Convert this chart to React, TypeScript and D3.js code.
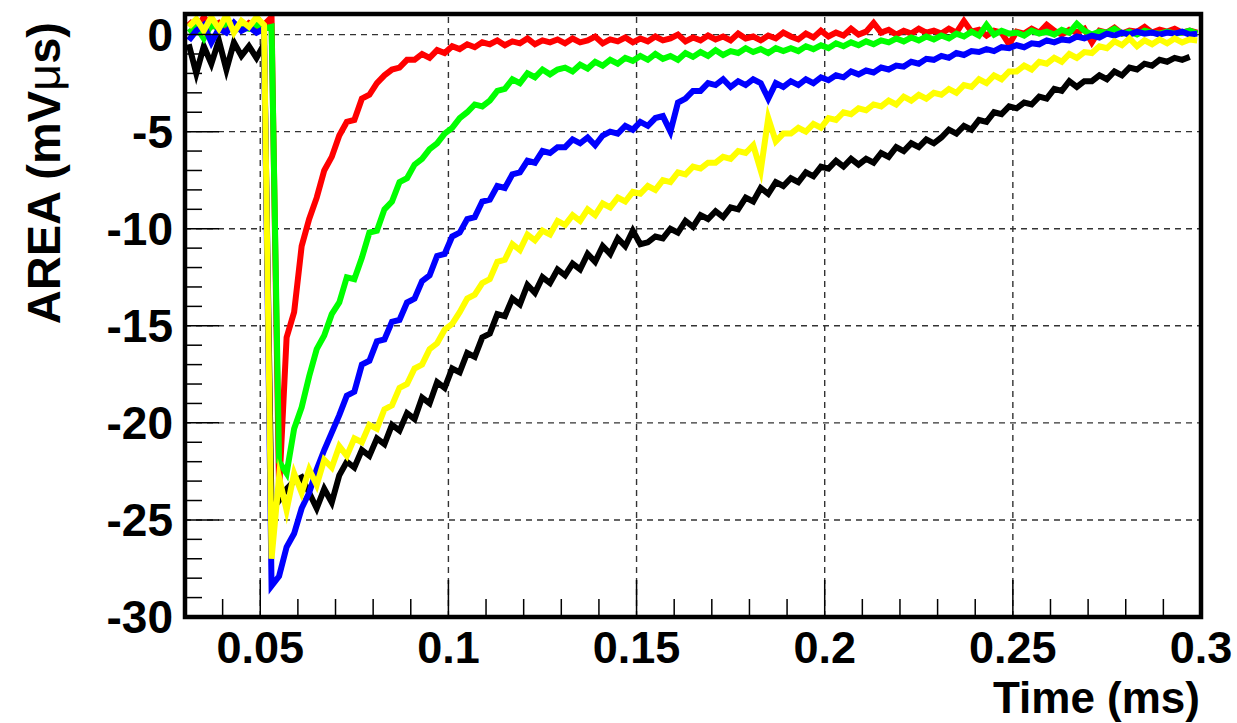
import React from 'react';
import * as d3 from 'd3';

// Sample times (ms): 0.031 .. 0.299, step 0.002
const TIMES: number[] = d3.range(135).map((i) => +(0.031 + 0.002 * i).toFixed(3));

const RED: (number | null)[] = [
  0.7, 0.3, 0.9, 0.4, 0.6, 0.2, 0.5, 0.3, 0.6, 0.4,
  0.5, 0.9, -23.5, -15.6, -14.3, -10.9, -9.5, -8.4, -7.0, -6.3,
  -5.2, -4.5, -4.4, -3.3, -3.1, -2.5, -2.1, -1.8, -1.7, -1.3,
  -1.3, -1.0, -1.2, -0.8, -0.95, -0.6, -0.75, -0.5, -0.65, -0.4,
  -0.5, -0.3, -0.55, -0.35, -0.45, -0.2, -0.5, -0.3, -0.4, -0.25,
  -0.45, -0.2, -0.4, -0.3, -0.1, -0.45, -0.25, -0.35, -0.15, -0.4,
  -0.2, -0.35, -0.1, -0.3, -0.2, 0.0, -0.35, -0.15, -0.3, -0.05,
  -0.25, -0.1, -0.3, 0.05, -0.2, -0.1, -0.3, -0.05, -0.2, 0.1,
  -0.1, -0.25, 0.05, -0.15, 0.2, -0.1, 0.1, -0.05, 0.3, 0.0,
  0.15, 0.6, 0.1, 0.25, 0.0, 0.2, 0.05, 0.3, 0.1, 0.2,
  0.05, 0.3, 0.1, 0.7, 0.15, 0.25, -0.05, 0.2, 0.1, -0.5,
  0.15, 0.05, 0.3, 0.1, 0.5, 0.2, 0.0, 0.25, 0.1, 0.3,
  -0.4, 0.2, 0.1, 0.35, 0.05, 0.2, 0.15, 0.4, 0.1, 0.25,
  0.15, 0.3, 0.1, 0.2, 0.1,
];

const GREEN: (number | null)[] = [
  0.1, 0.4, -0.2, 0.5, 0.3, 0.6, 0.2, 0.4, 0.3, 0.5,
  0.3, 0.4, -22.0, -22.6, -20.3, -19.2, -17.6, -16.2, -15.5, -14.4,
  -13.8, -12.5, -12.6, -11.5, -10.2, -10.1, -9.0, -8.6, -7.6, -7.4,
  -6.7, -6.4, -5.9, -5.6, -5.1, -4.8, -4.3, -4.0, -3.6, -3.7,
  -3.4, -2.9, -2.8, -2.3, -2.5, -2.0, -2.2, -1.8, -2.05, -1.8,
  -1.7, -1.9, -1.55, -1.75, -1.4, -1.6, -1.3, -1.5, -1.2, -1.35,
  -1.1, -1.3, -1.0, -1.25, -1.1, -1.3, -0.95, -1.15, -0.9, -1.1,
  -0.8, -1.05, -0.85, -0.95, -0.7, -0.9, -0.75, -0.95, -0.7, -0.85,
  -0.7, -0.85, -0.6, -0.75, -0.55, -0.7, -0.45, -0.6, -0.4, -0.55,
  -0.35, -0.5, -0.3, -0.4, -0.2, -0.35, -0.15, -0.3, -0.1, -0.25,
  -0.05, -0.2, 0.05, -0.1, 0.15, -0.05, 0.5, 0.0, 0.2, 0.05,
  0.1, -0.05, 0.2, 0.05, 0.15, 0.0, 0.25, 0.1, 0.55, 0.2,
  0.0, 0.15, 0.1, 0.3, 0.05, 0.15, 0.0, 0.2, 0.1, 0.05,
  0.15, 0.05, 0.1, 0.2, 0.05,
];

const BLUE: (number | null)[] = [
  -0.3, 0.2, 0.5, -0.4, 0.3, 0.1, 0.6, 0.2, 0.4, 0.1,
  0.3, -28.4, -27.9, -26.4, -25.7, -24.4, -23.6, -22.4, -21.4, -20.5,
  -19.6, -18.6, -18.4, -17.0, -16.8, -15.8, -15.7, -14.8, -14.7, -13.8,
  -13.6, -12.7, -12.4, -11.4, -11.3, -10.4, -10.2, -9.5, -9.4, -8.6,
  -8.5, -7.8, -7.9, -7.2, -7.1, -6.5, -6.6, -6.0, -6.1, -5.8,
  -5.8, -5.4, -5.6, -5.3, -5.7, -5.2, -5.0, -5.1, -4.7, -4.9,
  -4.5, -4.7, -4.3, -4.2, -5.0, -3.5, -3.3, -2.9, -2.9, -2.5,
  -2.6, -2.3, -2.7, -2.4, -2.6, -2.3, -2.5, -3.3, -2.5, -2.7,
  -2.4, -2.6, -2.3, -2.5, -2.2, -2.35, -2.1, -2.2, -1.9, -2.05,
  -1.85, -1.95, -1.7, -1.8, -1.6, -1.65, -1.4, -1.5, -1.25, -1.3,
  -1.1, -1.2, -0.95, -1.05, -0.85, -0.9, -0.75, -0.85, -0.65, -0.7,
  -0.55, -0.65, -0.45, -0.5, -0.3, -0.4, -0.25, -0.3, -0.1, -0.2,
  -0.05, -0.15, 0.05, -0.05, 0.1, 0.0, 0.15, 0.05, 0.1, 0.0,
  0.1, 0.05, 0.15, 0.0, 0.05,
];

const YELLOW: (number | null)[] = [
  0.4, 0.8, 0.2, 0.9, 0.3, 1.0, 0.1, 0.7, 0.4, 0.9,
  0.5, -27.0, -22.8, -24.5, -22.6, -23.6, -22.4, -23.2, -21.9, -22.3,
  -21.2, -21.7, -20.8, -21.0, -20.1, -20.3, -19.3, -19.1, -18.2, -18.0,
  -17.2, -17.0, -16.2, -15.9, -15.2, -14.9, -14.3, -13.6, -13.4, -12.8,
  -12.6, -11.7, -11.6, -10.8, -11.1, -10.3, -10.6, -10.1, -10.3, -9.6,
  -9.8, -9.3, -9.6, -9.0, -9.3, -8.7, -8.9, -8.4, -8.6, -8.1,
  -8.2, -7.8, -8.0, -7.5, -7.6, -7.1, -7.2, -6.8, -6.9, -6.6,
  -6.6, -6.3, -6.4, -6.0, -6.1, -5.7, -7.0, -4.3, -5.5, -5.1,
  -5.1, -4.8, -5.0, -4.6, -4.8, -4.3, -4.4, -4.0, -4.1, -3.8,
  -3.9, -3.6, -3.7, -3.4, -3.6, -3.2, -3.4, -3.1, -3.3, -3.0,
  -3.1, -2.8, -3.0, -2.6, -2.7, -2.3, -2.5, -2.1, -2.3, -1.9,
  -1.9, -1.6, -1.8, -1.4, -1.5, -1.2, -1.4, -1.0, -1.2, -0.9,
  -0.95, -0.6, -0.7, -0.35, -0.55, -0.2, -0.6, -0.3, -0.5, -0.25,
  -0.45, -0.2, -0.4, -0.25, -0.3,
];

const BLACK: (number | null)[] = [
  -0.5, -2.0, -0.6, -1.5, -0.3, -1.8, -0.4, -1.1, -0.6, -1.2,
  -0.5, -24.5, -24.0, -23.4, -23.0, -22.8, -23.6, -24.4, -23.4, -24.1,
  -22.7, -22.0, -22.3, -21.4, -21.7, -20.8, -21.1, -20.1, -20.4, -19.5,
  -19.8, -18.7, -19.0, -17.9, -18.2, -17.2, -17.4, -16.4, -16.6, -15.6,
  -15.4, -14.4, -14.5, -13.6, -13.9, -12.9, -13.3, -12.5, -12.8, -12.1,
  -12.4, -11.8, -12.1, -11.3, -11.7, -10.9, -11.3, -10.5, -10.9, -10.1,
  -10.8, -10.7, -10.4, -10.5, -10.0, -10.2, -9.6, -9.9, -9.3, -9.5,
  -9.1, -9.4, -8.9, -9.0, -8.4, -8.6, -7.9, -8.2, -7.6, -7.8,
  -7.4, -7.6, -7.1, -7.3, -6.8, -6.9, -6.5, -6.8, -6.4, -6.7,
  -6.4, -6.6, -6.1, -6.3, -5.8, -6.0, -5.6, -5.8, -5.4, -5.6,
  -5.3, -4.9, -5.1, -4.7, -4.9, -4.4, -4.5, -4.0, -4.1, -3.7,
  -3.8, -3.5, -3.6, -3.2, -3.3, -2.8, -2.9, -2.4, -2.7, -2.4,
  -2.4, -2.1, -2.3, -1.9, -2.1, -1.7, -1.8, -1.5, -1.6, -1.3,
  -1.4, -1.2, -1.3, -1.15, null,
];

const SERIES = [
  { name: 'black', color: '#000000', values: BLACK },
  { name: 'red', color: '#ff0000', values: RED },
  { name: 'green', color: '#00ff00', values: GREEN },
  { name: 'blue', color: '#0000ff', values: BLUE },
  { name: 'yellow', color: '#ffff00', values: YELLOW },
];

const X_MAJOR = [0.05, 0.1, 0.15, 0.2, 0.25, 0.3];
const X_LABELS = ['0.05', '0.1', '0.15', '0.2', '0.25', '0.3'];
const Y_MAJOR = [0, -5, -10, -15, -20, -25, -30];
const Y_LABELS = ['0', '-5', '-10', '-15', '-20', '-25', '-30'];
const X_TITLE = 'Time (ms)';

const W = 1237;
const H = 723;
const L = 185, R = 1201, T = 14, B = 617;
const FONT = '"Liberation Sans", Arial, Helvetica, sans-serif';

export default function App() {
  const x = d3.scaleLinear().domain([0.03, 0.3]).range([L, R]);
  const y = d3.scaleLinear().domain([-30, 1.06]).range([B, T]);

  const xMinor = d3.range(0.03, 0.3001, 0.01).map((v) => +v.toFixed(3)).filter((v) => !X_MAJOR.some((m) => Math.abs(m - v) < 1e-6));
  const yMinor = d3.range(-30, 1, 1).filter((v) => v % 5 !== 0);

  const line = d3
    .line<[number, number | null]>()
    .defined((d) => d[1] !== null)
    .x((d) => x(d[0]))
    .y((d) => y(d[1] as number));

  return (
    <svg
      width={W}
      height={H}
      style={{ position: 'absolute', left: 0, top: 0, background: '#fff' }}
      fontFamily={FONT}
    >
      <defs>
        <clipPath id="plot">
          <rect x={L} y={T} width={R - L} height={B - T} />
        </clipPath>
      </defs>
      <rect x={0} y={0} width={W} height={H} fill="#fff" />

      {/* grid */}
      <g stroke="#333" strokeWidth={1.4} strokeDasharray="6,5">
        {X_MAJOR.filter((v) => v < 0.3).map((v) => (
          <line key={'gx' + v} x1={x(v)} x2={x(v)} y1={B} y2={T} />
        ))}
        {Y_MAJOR.filter((v) => v > -30).map((v) => (
          <line key={'gy' + v} x1={L} x2={R} y1={y(v)} y2={y(v)} />
        ))}
      </g>

      {/* data */}
      <g clipPath="url(#plot)" fill="none" strokeWidth={6} strokeLinejoin="miter" strokeMiterlimit={8}>
        {SERIES.map((s) => (
          <path
            key={s.name}
            d={line(TIMES.map((t, i) => [t, s.values[i] ?? null]) as [number, number | null][]) || ''}
            stroke={s.color}
          />
        ))}
      </g>

      {/* ticks */}
      <g stroke="#000" strokeWidth={1.5}>
        {X_MAJOR.map((v) => (
          <line key={'xt' + v} x1={x(v)} x2={x(v)} y1={B} y2={B - 37} />
        ))}
        {xMinor.map((v) => (
          <line key={'xm' + v} x1={x(v)} x2={x(v)} y1={B} y2={B - 18} />
        ))}
        {Y_MAJOR.map((v) => (
          <line key={'yt' + v} x1={L} x2={L + 34} y1={y(v)} y2={y(v)} />
        ))}
        {yMinor.map((v) => (
          <line key={'ym' + v} x1={L} x2={L + 17} y1={y(v)} y2={y(v)} />
        ))}
      </g>

      {/* frame */}
      <rect x={L} y={T} width={R - L} height={B - T} fill="none" stroke="#000" strokeWidth={4.5} />

      {/* labels */}
      <g fontSize={46} fontWeight="bold" fill="#000">
        {X_MAJOR.map((v, i) => (
          <text key={'xl' + v} x={x(v)} y={663} textAnchor="middle" fontSize={45}>
            {X_LABELS[i]}
          </text>
        ))}
        {Y_MAJOR.map((v, i) => (
          <text key={'yl' + v} x={173} y={y(v) + 16} textAnchor="end">
            {Y_LABELS[i]}
          </text>
        ))}
        <text x={1200} y={713} textAnchor="end" fontSize={44}>
          {X_TITLE}
        </text>
        <text transform="translate(60,22) rotate(-90)" textAnchor="end" fontSize={47}>
          AREA (mV<tspan fontWeight="normal">μ</tspan>s)
        </text>
      </g>
    </svg>
  );
}
